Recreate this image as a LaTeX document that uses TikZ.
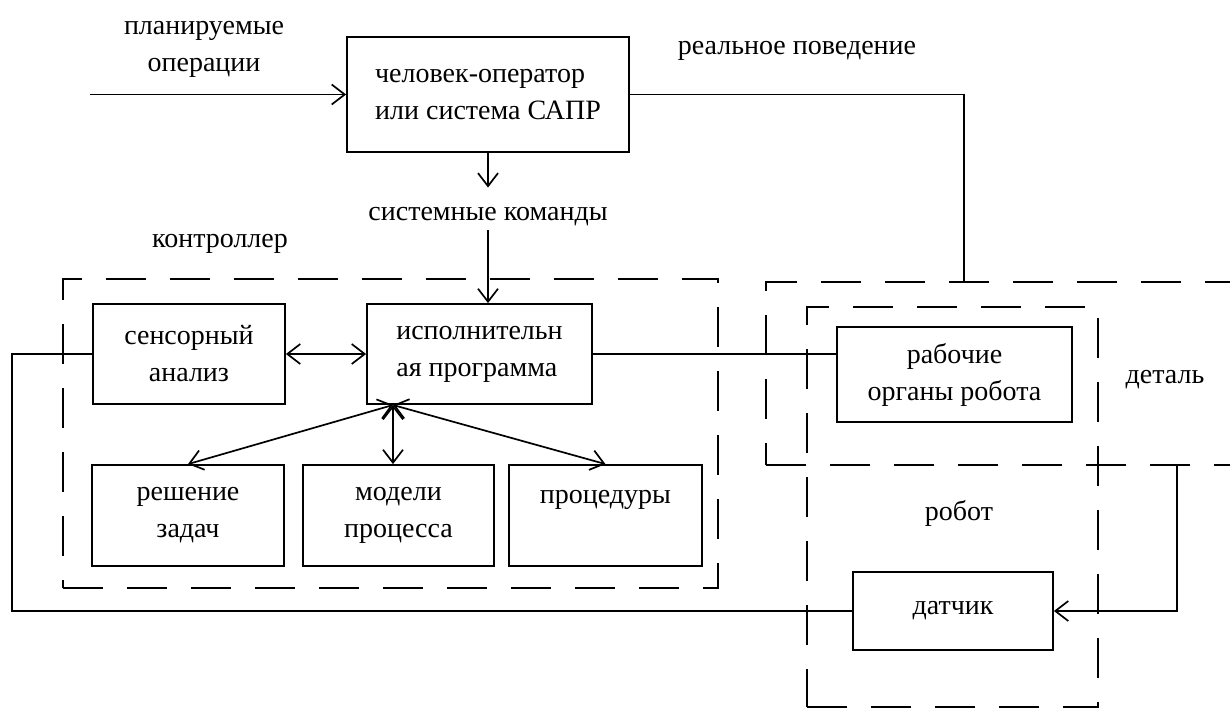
\documentclass[tikz,border=0pt]{standalone}
\usepackage{fontspec}
\setmainfont{Liberation Serif}
\usetikzlibrary{positioning, arrows.meta}

\tikzset{
  block/.style={draw, line width=1.8pt, inner sep=0pt},
  frame/.style={draw, line width=2pt, dash pattern=on 40pt off 24pt, inner sep=0pt},
}

\begin{document}
\begin{tikzpicture}[x=1pt, y=-1pt, line width=1.7pt, on grid,
    >={Straight Barb[length=13pt,width=20pt]},
    every node/.style={align=center, font=\fontsize{28}{37}\selectfont}]
  \useasboundingbox (0,0) rectangle (1230,709);
  % dashed frames
  \node[frame, minimum width=655pt, minimum height=309pt] (ctrl) at (390.5,433.5) {};
  \node[frame, minimum width=500pt, minimum height=183pt] (detail) at (1016,373.5) {};
  \node[frame, minimum width=291pt, minimum height=400pt] (robot) at (952.5,507) {};
  % blocks
  \node[block, minimum width=282pt, minimum height=115pt, align=left] (oper) at (488,94.5) {человек-оператор\\или система САПР};
  \node[block, minimum width=225pt, minimum height=100pt, align=left] (exec) at (479.5,354) {исполнительн\\ая программа};
  \node[block, minimum width=192pt, minimum height=100pt] (sens) [left=290.5pt of exec] {сенсорный\\анализ};
  \node[block, minimum width=191pt, minimum height=101pt] (model) at (398.5,515.5) {модели\\процесса};
  \node[block, minimum width=192pt, minimum height=101pt] (solve) [left=210.5pt of model] {решение\\задач};
  \node[block, minimum width=193pt, minimum height=101pt] (proc) [right=207pt of model] {процедуры\\\mbox{}};
  \node[block, minimum width=235pt, minimum height=95pt] (work) at (954.5,374.5) {рабочие\\органы робота};
  \node[block, minimum width=200pt, minimum height=78pt] (sensor) [below=236.5pt of work, xshift=-1.5pt] {датчик};
  % labels
  \node (plan) at (204,49) {планируемые\\операции};
  \node (cmd) at (488,217) {системные команды};
  \node (ctrllbl) at (220,244) {контроллер};
  \node (real) at (797,51) {реальное поведение};
  \node (detlbl) at (1165,380) {деталь};
  \node (roblbl) at (959,513) {робот};
  % connectors
  \coordinate (in) at (90,94.5);
  \coordinate (hub) at (393,405);
  \coordinate (tap) at (1177,465);
  \coordinate (back) at (12,611);
  \coordinate (drop) at (964,282);
  \path[->]
    (in) edge (oper)
    (oper) edge[shorten >=16pt] (cmd)
    (cmd) edge (cmd |- exec.north);
  \path[<->]
    (sens) edge (exec)
    (hub) edge (solve.north)
    (hub) edge (hub |- model.north)
    (hub) edge (proc.north);
  \draw (oper) -| (drop);
  \draw (exec.east) -- (exec.east -| work.west);
  \draw (sens) -| (back) -- (sensor);
  \draw[->] (tap) |- (sensor);
\end{tikzpicture}
\end{document}
